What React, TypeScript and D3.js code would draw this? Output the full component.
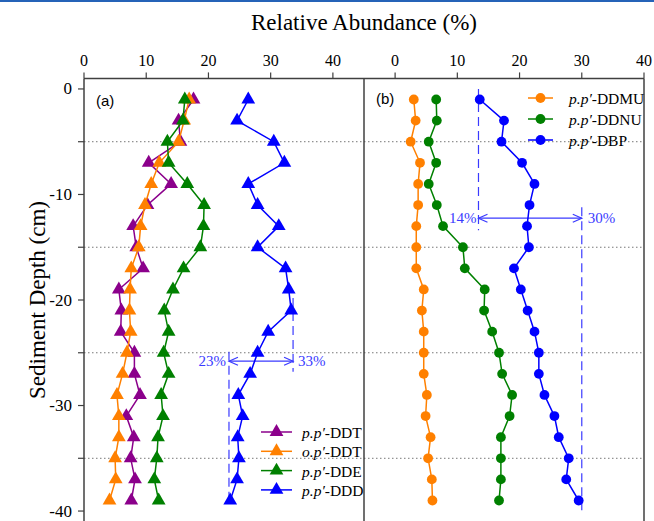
import React from "react";
import * as d3 from "d3";

const depths = [-1, -3, -5, -7, -9, -11, -13, -15, -17, -19, -21, -23, -25, -27, -29, -31, -33, -35, -37, -39];

const ppDDT = [17.6, 15.2, 15.5, 10.4, 14.0, 10.2, 7.9, 8.4, 9.5, 5.6, 6.0, 5.9, 8.1, 8.1, 9.0, 6.8, 8.0, 7.5, 8.2, 7.6];
const opDDT = [16.9, 16.1, 15.2, 12.1, 10.8, 9.8, 9.1, 8.8, 7.6, 7.4, 7.3, 7.5, 6.9, 6.2, 5.3, 5.6, 5.6, 5.0, 5.1, 4.1];
const ppDDE = [16.2, 15.9, 13.4, 13.6, 16.6, 19.3, 19.2, 18.7, 16.0, 14.3, 12.9, 13.6, 12.8, 13.6, 12.4, 12.7, 11.9, 11.7, 11.3, 12.0];
const ppDDD = [26.4, 24.6, 30.5, 32.2, 26.4, 27.9, 31.3, 27.9, 32.4, 32.9, 33.3, 29.6, 27.9, 26.7, 24.8, 25.5, 24.7, 24.9, 24.6, 23.5];

const ppDDMU = [3.0, 3.3, 2.5, 4.0, 3.7, 3.7, 3.4, 3.4, 3.4, 4.6, 4.3, 4.6, 4.6, 4.6, 5.1, 4.9, 5.7, 5.3, 5.9, 6.0];
const ppDDNU = [6.6, 6.7, 5.4, 6.6, 5.4, 6.7, 7.7, 10.9, 11.2, 14.4, 14.3, 15.6, 16.7, 17.2, 18.8, 18.4, 17.0, 17.0, 17.0, 16.7];
const ppDBP = [13.6, 17.5, 17.1, 20.4, 22.4, 21.6, 21.2, 21.5, 19.1, 20.2, 21.3, 22.4, 23.1, 23.1, 24.0, 25.6, 26.3, 27.9, 27.5, 29.5];

const seriesA = [
  { ital: "p.p′", rest: "-DDT", values: ppDDT, color: "#8b008b" },
  { ital: "o.p′", rest: "-DDT", values: opDDT, color: "#ff8000" },
  { ital: "p.p′", rest: "-DDE", values: ppDDE, color: "#008000" },
  { ital: "p.p′", rest: "-DDD", values: ppDDD, color: "#0000ff" },
];
const seriesB = [
  { ital: "p.p′", rest: "-DDMU", values: ppDDMU, color: "#ff8000" },
  { ital: "p.p′", rest: "-DDNU", values: ppDDNU, color: "#008000" },
  { ital: "p.p′", rest: "-DBP", values: ppDBP, color: "#0000ff" },
];

const xTicks = [0, 10, 20, 30, 40];
const yTicksMajor = [0, -10, -20, -30, -40];
const yTicksMinor = [-5, -15, -25, -35];

export default function App() {
  const W = 654, H = 521;
  const x0 = 84, xm = 364, x1 = 644;
  const xA = d3.scaleLinear().domain([0, 45]).range([x0, xm]);
  const xB = d3.scaleLinear().domain([-5, 40]).range([xm, x1]);
  const y = d3.scaleLinear().domain([1, -41]).range([78.4, 521.6]);
  const serif = "'Liberation Serif', 'Times New Roman', serif";
  const sans = "'Liberation Sans', Arial, sans-serif";
  const axisColor = "#404040";
  const annColor = "#3a3aff";
  const tri = d3.symbol().type(d3.symbolTriangle).size(82)() as string;

  const lineGen = (xs: d3.ScaleLinear<number, number>) =>
    d3.line<number>().x((v) => xs(v)).y((_, i) => y(depths[i]));

  const arrowHead = (x: number, yy: number, dir: number) =>
    `M${x + dir * 9},${yy - 4} L${x},${yy} L${x + dir * 9},${yy + 4}`;

  const aL = xA(23.3), aR = xA(33.6), aY = y(-25.8);
  const bL = xB(13.4), bR = xB(30), bY = y(-12.25);

  return (
    <svg width={W} height={H} style={{ position: "absolute", left: 0, top: 0, background: "#fff" }}>
      <rect x={0} y={0} width={W} height={2} fill="#2563b8" />
      <text x={xm} y={30} textAnchor="middle" fontFamily={serif} fontSize={23}>Relative Abundance (%)</text>
      <text transform={`translate(40,${y(-20)}) rotate(-90)`} textAnchor="middle" dominantBaseline="middle" fontFamily={serif} fontSize={23}>Sediment Depth (cm)</text>

      {yTicksMinor.map((t) => (
        <line key={"g" + t} x1={x0} x2={x1} y1={y(t)} y2={y(t)} stroke="#777" strokeWidth={1} strokeDasharray="1.5,2.5" />
      ))}

      {xTicks.map((t) => (
        <g key={"ta" + t}>
          <line x1={xA(t)} x2={xA(t)} y1={y(1)} y2={y(1) - 6} stroke={axisColor} strokeWidth={1.2} />
          <text x={xA(t)} y={66} textAnchor="middle" fontFamily={serif} fontSize={16}>{t}</text>
          <line x1={xB(t)} x2={xB(t)} y1={y(1)} y2={y(1) - 6} stroke={axisColor} strokeWidth={1.2} />
          <text x={xB(t)} y={66} textAnchor="middle" fontFamily={serif} fontSize={16}>{t}</text>
        </g>
      ))}
      {[...yTicksMajor, ...yTicksMinor].map((t) => (
        <line key={"yt" + t} x1={x0} x2={x0 - 6} y1={y(t)} y2={y(t)} stroke={axisColor} strokeWidth={1.2} />
      ))}
      {yTicksMajor.map((t) => (
        <text key={"yl" + t} x={72} y={y(t)} textAnchor="end" dominantBaseline="central" fontFamily={serif} fontSize={17}>{t}</text>
      ))}

      <line x1={x0} x2={x1} y1={y(1)} y2={y(1)} stroke={axisColor} strokeWidth={1.5} />
      <line x1={x0} x2={x0} y1={y(1)} y2={H} stroke={axisColor} strokeWidth={1.5} />
      <line x1={xm} x2={xm} y1={y(1)} y2={H} stroke={axisColor} strokeWidth={1.5} />
      <line x1={x1} x2={x1} y1={y(1)} y2={H} stroke={axisColor} strokeWidth={1.5} />

      <text x={96} y={y(-1.05)} dominantBaseline="central" fontFamily={sans} fontSize={15}>(a)</text>
      <text x={376} y={y(-0.9)} dominantBaseline="central" fontFamily={sans} fontSize={15}>(b)</text>

      <g stroke={annColor} strokeWidth={1.2} fill="none">
        <line x1={aL} x2={aL} y1={y(-24.9)} y2={y(-39.5)} strokeDasharray="9,5" />
        <line x1={aR} x2={aR} y1={y(-19.8)} y2={y(-26.8)} strokeDasharray="9,5" />
        <line x1={aL} x2={aR} y1={aY} y2={aY} />
        <path d={arrowHead(aL, aY, 1)} />
        <path d={arrowHead(aR, aY, -1)} />
        <line x1={bL} x2={bL} y1={y(0)} y2={y(-13.4)} strokeDasharray="9,5" />
        <line x1={bR} x2={bR} y1={y(-11.2)} y2={y(-40.3)} strokeDasharray="9,5" />
        <line x1={bL} x2={bR} y1={bY} y2={bY} />
        <path d={arrowHead(bL, bY, 1)} />
        <path d={arrowHead(bR, bY, -1)} />
      </g>
      <g fill={annColor} fontFamily={serif} fontSize={15}>
        <text x={aL - 3} y={aY} textAnchor="end" dominantBaseline="central">23%</text>
        <text x={aR + 5} y={aY} dominantBaseline="central">33%</text>
        <text x={bL - 2} y={bY} textAnchor="end" dominantBaseline="central">14%</text>
        <text x={bR + 6} y={bY} dominantBaseline="central">30%</text>
      </g>

      {seriesA.map((s, k) => (
        <g key={"sa" + k}>
          <path d={lineGen(xA)(s.values) as string} fill="none" stroke={s.color} strokeWidth={1.5} />
          {s.values.map((v, i) => (
            <path key={i} d={tri} transform={`translate(${xA(v)},${y(depths[i])})`} fill={s.color} />
          ))}
        </g>
      ))}
      {seriesB.map((s, k) => (
        <g key={"sb" + k}>
          <path d={lineGen(xB)(s.values) as string} fill="none" stroke={s.color} strokeWidth={1.5} />
          {s.values.map((v, i) => (
            <circle key={i} cx={xB(v)} cy={y(depths[i])} r={4.9} fill={s.color} />
          ))}
        </g>
      ))}

      {seriesA.map((s, k) => {
        const ly = 432 + k * 19.3;
        return (
          <g key={"la" + k}>
            <line x1={261} x2={292} y1={ly} y2={ly} stroke={s.color} strokeWidth={1.5} />
            <path d={tri} transform={`translate(276.5,${ly})`} fill={s.color} />
            <text x={302} y={ly} dominantBaseline="central" fontFamily={serif} fontSize={15.5}>
              <tspan fontStyle="italic">{s.ital}</tspan>
              <tspan>{s.rest}</tspan>
            </text>
          </g>
        );
      })}
      {seriesB.map((s, k) => {
        const ly = 98 + k * 21;
        return (
          <g key={"lb" + k}>
            <line x1={528} x2={553} y1={ly} y2={ly} stroke={s.color} strokeWidth={1.5} />
            <circle cx={540.5} cy={ly} r={4.9} fill={s.color} />
            <text x={569} y={ly} dominantBaseline="central" fontFamily={serif} fontSize={15.5}>
              <tspan fontStyle="italic">{s.ital}</tspan>
              <tspan>{s.rest}</tspan>
            </text>
          </g>
        );
      })}
    </svg>
  );
}
